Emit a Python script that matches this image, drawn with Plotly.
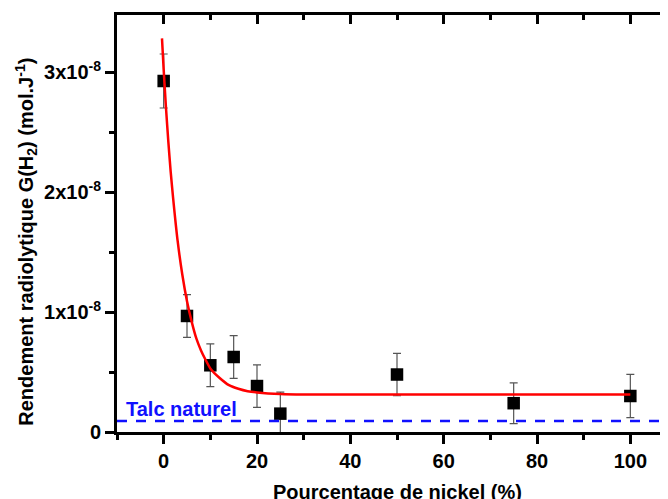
import plotly.graph_objects as go

# Data
x_pct = [0, 5, 10, 15, 20, 25, 50, 75, 100]
g_h2 = [2.925e-8, 0.967e-8, 0.556e-8, 0.625e-8, 0.383e-8, 0.153e-8, 0.479e-8, 0.24e-8, 0.30e-8]
g_err = [0.225e-8, 0.178e-8, 0.178e-8, 0.178e-8, 0.177e-8, 0.18e-8, 0.177e-8, 0.17e-8, 0.18e-8]

fit_x = [-0.36, 0, 0.5, 1, 1.5, 2, 3, 4, 5, 6, 7, 8, 9, 10, 12, 14, 16, 18, 20, 25, 30, 40, 60, 80, 100]
fit_y = [3.28e-8, 3.02e-8, 2.70e-8, 2.42e-8, 2.17e-8, 1.96e-8, 1.59e-8, 1.31e-8, 1.09e-8, 0.92e-8,
         0.78e-8, 0.68e-8, 0.60e-8, 0.53e-8, 0.45e-8, 0.39e-8, 0.36e-8, 0.34e-8, 0.33e-8, 0.317e-8,
         0.313e-8, 0.312e-8, 0.312e-8, 0.312e-8, 0.312e-8]

talc_value = 0.092e-8
talc_label = "Talc naturel"

y_tickvals = [0, 1e-8, 2e-8, 3e-8]
y_ticktext = ["0", "1x10<sup>-8</sup>", "2x10<sup>-8</sup>", "3x10<sup>-8</sup>"]
x_tickvals = [0, 20, 40, 60, 80, 100]

x_title = "Pourcentage de nickel (%)"
y_title = "Rendement radiolytique G(H<sub>2</sub>) (mol.J<sup>-1</sup>)"

FONT = "Liberation Sans, Arial, sans-serif"
X_RANGE = [-10, 110]
Y_RANGE = [0, 3.475e-8]

fig = go.Figure()

fig.add_hline(y=talc_value, line=dict(color="#1010ff", width=2.5, dash="10px,9px"))

fig.add_trace(go.Scatter(
    x=x_pct, y=g_h2, mode="markers",
    marker=dict(symbol="square", size=12.5, color="black"),
    error_y=dict(type="data", array=g_err, visible=True, color="#555555", thickness=1.2, width=4),
    showlegend=False,
))

fig.add_trace(go.Scatter(
    x=fit_x, y=fit_y, mode="lines",
    line=dict(color="#ff0000", width=2.5, shape="spline", smoothing=0.6),
    showlegend=False,
))

# empty traces so the mirrored frame axes are drawn
fig.add_trace(go.Scatter(x=[None], y=[None], xaxis="x2", yaxis="y", showlegend=False, hoverinfo="skip"))
fig.add_trace(go.Scatter(x=[None], y=[None], xaxis="x", yaxis="y2", showlegend=False, hoverinfo="skip"))

fig.add_annotation(
    x=-8.5, y=0.19e-8, xref="x", yref="y", text="<b>%s</b>" % talc_label,
    showarrow=False, xanchor="left", yanchor="middle",
    font=dict(family=FONT, size=20, color="#1010ff"),
)

fig.add_annotation(
    x=0.5, y=-0.1434, xref="paper", yref="paper", text="<b>%s</b>" % x_title,
    showarrow=False, xanchor="center", yanchor="middle",
    font=dict(family=FONT, size=20, color="black"),
)
fig.add_annotation(
    x=-0.163, y=0.4556, xref="paper", yref="paper", text="<b>%s</b>" % y_title,
    showarrow=False, xanchor="center", yanchor="middle", textangle=-90,
    font=dict(family=FONT, size=20, color="black"),
)

frame = dict(showgrid=False, zeroline=False, showline=True, linecolor="black", linewidth=3,
             tickwidth=2.5, tickcolor="black")

fig.update_layout(
    width=671, height=499,
    margin=dict(l=109, r=2, t=7, b=75),
    paper_bgcolor="white", plot_bgcolor="white",
    showlegend=False,
    font=dict(family=FONT, color="black"),
    xaxis=dict(
        range=X_RANGE, tickvals=x_tickvals, ticks="outside", ticklen=9,
        minor=dict(ticks="outside", ticklen=5, tickwidth=2.5, tickcolor="black", dtick=10, tick0=0),
        tickfont=dict(family=FONT, size=20, color="black", weight="bold"),
        **frame,
    ),
    xaxis2=dict(
        range=X_RANGE, overlaying="x", side="top", anchor="y",
        tickvals=x_tickvals, showticklabels=False, ticks="inside", ticklen=9,
        minor=dict(ticks="inside", ticklen=5, tickwidth=2.5, tickcolor="black", dtick=10, tick0=0),
        **frame,
    ),
    yaxis=dict(
        range=Y_RANGE, tickvals=y_tickvals, ticktext=y_ticktext,
        ticks="outside", ticklen=9,
        minor=dict(ticks="outside", ticklen=5, tickwidth=2.5, tickcolor="black", dtick=0.5e-8, tick0=0),
        tickfont=dict(family=FONT, size=20, color="black", weight="bold"),
        **frame,
    ),
    yaxis2=dict(
        range=Y_RANGE, overlaying="y", side="right", anchor="x",
        tickvals=y_tickvals, showticklabels=False, ticks="inside", ticklen=9,
        minor=dict(ticks="inside", ticklen=5, tickwidth=2.5, tickcolor="black", dtick=0.5e-8, tick0=0),
        **frame,
    ),
)

fig.write_html("out.html")
